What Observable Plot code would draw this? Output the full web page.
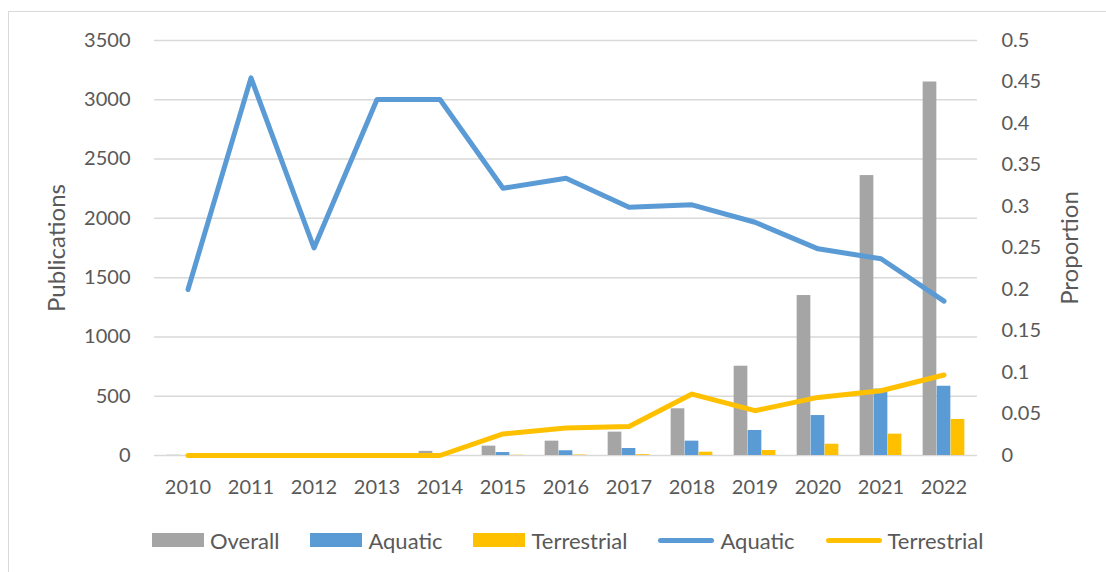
<!DOCTYPE html>
<html>
<head>
<meta charset="utf-8">
<script src="https://cdn.jsdelivr.net/npm/d3@7"></script>
<script src="https://cdn.jsdelivr.net/npm/@observablehq/plot@0.6"></script>
<style>
  html, body { margin: 0; padding: 0; background: #fff; }
  body { width: 1106px; height: 572px; position: relative; overflow: hidden; font-family: Lato, "Open Sans", sans-serif; color: #595959; }
  #frame { position: absolute; left: 8px; top: 11px; width: 1200px; height: 700px; border-left: 1.5px solid #d9d9d9; border-top: 1.5px solid #d9d9d9; }
  #chart { position: absolute; left: 0; top: 0; }
  #legend { position: absolute; left: 152px; top: 515px; height: 50px; display: flex; align-items: center; gap: 31px; font-size: 22px; }
  .item { display: flex; align-items: center; gap: 6px; }
  .sw { width: 52px; height: 14px; }
  .ln { width: 56px; height: 5px; border-radius: 3px; }
</style>
</head>
<body>
<div id="frame"></div>
<div id="chart"></div>
<div id="legend"></div>
<script>
const years = ["2010","2011","2012","2013","2014","2015","2016","2017","2018","2019","2020","2021","2022"];
const overallPubs = [2, 4, 2, 3, 35, 79, 121, 197, 394, 753, 1349, 2361, 3150];
const aquaticPubs = [0, 2, 0, 1, 15, 25, 40, 59, 121, 211, 337, 560, 584];
const terrestrialPubs = [0, 0, 0, 0, 0, 2, 4, 7, 28, 42, 95, 180, 304];
const aquaticProp = [0.2, 0.455, 0.25, 0.429, 0.429, 0.322, 0.334, 0.299, 0.302, 0.281, 0.249, 0.237, 0.186];
const terrestrialProp = [0, 0, 0, 0, 0, 0.026, 0.033, 0.035, 0.074, 0.054, 0.070, 0.078, 0.097];
const pubTicks = [0, 500, 1000, 1500, 2000, 2500, 3000, 3500];
const propTicks = [0, 0.05, 0.1, 0.15, 0.2, 0.25, 0.3, 0.35, 0.4, 0.45, 0.5];
const legendItems = [
  {label: "Overall", kind: "bar", color: "#a5a5a5"},
  {label: "Aquatic", kind: "bar", color: "#5b9bd5"},
  {label: "Terrestrial", kind: "bar", color: "#ffc000"},
  {label: "Aquatic", kind: "line", color: "#5b9bd5"},
  {label: "Terrestrial", kind: "line", color: "#ffc000"}
];

const k = 3500 / 0.5; // proportion -> publication axis
const rows = years.map((y, i) => ({
  year: y, overall: overallPubs[i], aquatic: aquaticPubs[i], terrestrial: terrestrialPubs[i],
  aqP: aquaticProp[i] * k, teP: terrestrialProp[i] * k
}));

const W = 1106, H = 515, ML = 154, MR = 129, MT = 40, MB = 60;
const step = (W - ML - MR) / years.length;
const barW = 14;
const off = (step - 3 * barW) / 2;
const txt = "#595959";

const chart = Plot.plot({
  width: W, height: H,
  marginLeft: ML, marginRight: MR, marginTop: MT, marginBottom: MB,
  style: {fontFamily: "Lato, 'Open Sans', sans-serif", fontSize: "20px", color: txt, background: "transparent"},
  x: {type: "band", domain: years, padding: 0},
  y: {domain: [0, 3500]},
  marks: [
    Plot.gridY(pubTicks, {stroke: "#d9d9d9", strokeOpacity: 1, strokeWidth: 1.5}),
    Plot.barY(rows, {x: "year", y: "overall", fill: "#a5a5a5", insetLeft: off, insetRight: step - off - barW}),
    Plot.barY(rows, {x: "year", y: "aquatic", fill: "#5b9bd5", insetLeft: off + barW, insetRight: off + barW}),
    Plot.barY(rows, {x: "year", y: "terrestrial", fill: "#ffc000", insetLeft: off + 2 * barW, insetRight: off}),
    Plot.line(rows, {x: "year", y: "aqP", stroke: "#5b9bd5", strokeWidth: 5, strokeLinecap: "round", strokeLinejoin: "round"}),
    Plot.line(rows, {x: "year", y: "teP", stroke: "#ffc000", strokeWidth: 5, strokeLinecap: "round", strokeLinejoin: "round"}),
    Plot.axisY(pubTicks, {anchor: "left", tickSize: 0, tickPadding: 24, label: null, fill: txt, fontSize: 20,
      tickFormat: d => String(d)}),
    Plot.axisY(propTicks.map(p => p * k), {anchor: "right", tickSize: 0, tickPadding: 24, label: null, fill: txt, fontSize: 20,
      tickFormat: d => String(+(d / k).toFixed(2))}),
    Plot.axisX({tickSize: 0, tickPadding: 24, label: null, fill: txt, fontSize: 20}),
    Plot.text(["Publications"], {frameAnchor: "left", textAnchor: "middle", dx: -97, rotate: -90, fontSize: 24, fill: txt}),
    Plot.text(["Proportion"], {frameAnchor: "right", textAnchor: "middle", dx: 93, rotate: -90, fontSize: 24, fill: txt})
  ]
});
document.getElementById("chart").appendChild(chart);

const legend = document.getElementById("legend");
for (const it of legendItems) {
  const d = document.createElement("div");
  d.className = "item";
  const s = document.createElement("span");
  s.className = it.kind === "bar" ? "sw" : "ln";
  s.style.background = it.color;
  const t = document.createElement("span");
  t.textContent = it.label;
  d.appendChild(s); d.appendChild(t);
  legend.appendChild(d);
}
</script>
</body>
</html>
